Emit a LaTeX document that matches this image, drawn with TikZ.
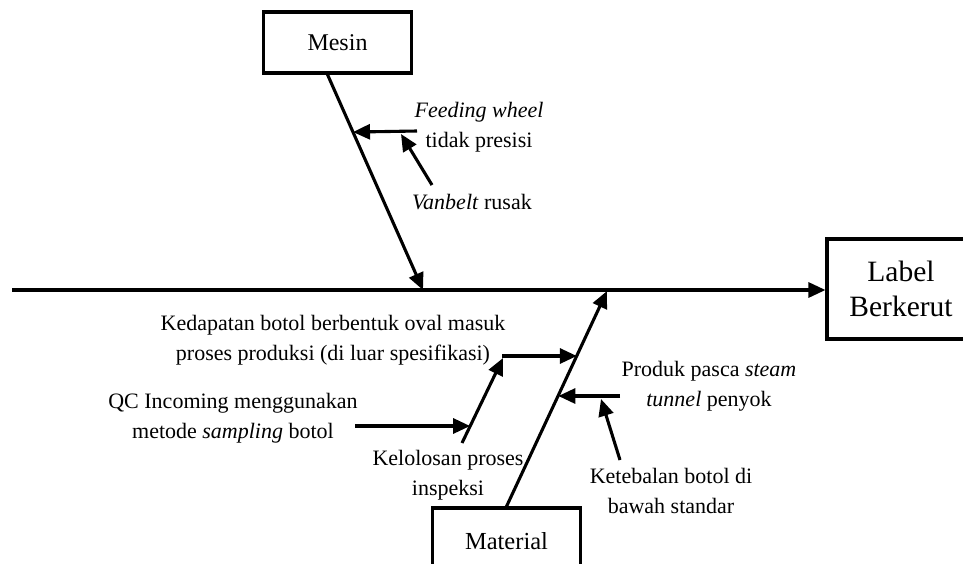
\documentclass[tikz,border=0pt]{standalone}
\usepackage{fontspec}
\setmainfont{Liberation Serif}
\usetikzlibrary{arrows.meta,calc}
\begin{document}
\begin{tikzpicture}[x=1pt,y=-1pt,
  bone/.style={line width=3.1pt, -{Triangle[length=17pt,width=15pt]}},
  cbox/.style={draw, line width=3.1pt, minimum width=148pt, inner sep=0pt},
  cause/.style={font=\fontsize{22}{29.5}\selectfont, align=center, inner sep=0pt, anchor=base},
]
\useasboundingbox (0,0) rectangle (963,563);

% category and effect boxes
\node[cbox, minimum height=61pt, font=\fontsize{24}{28}\selectfont] (mesin) at (337.5,42.5) {Mesin};
\node[cbox, minimum height=100pt, font=\fontsize{29.5}{35}\selectfont, align=center] (effect) at (901,289) {Label\\Berkerut};
\node[cbox, minimum height=66pt, font=\fontsize{24.5}{28}\selectfont] (material) at (506.5,541) {Material};

% cause labels (placed by the baseline of their last line)
\node[cause] (feed) at (479,147) {\textit{Feeding wheel}\\tidak presisi};
\node[cause] (vanbelt) at (472,209) {\textit{Vanbelt} rusak};
\node[cause] (oval) at (333,360) {Kedapatan botol berbentuk oval masuk\\proses produksi (di luar spesifikasi)};
\node[cause] (qc) at (233,438) {QC Incoming menggunakan\\metode \textit{sampling} botol};
\node[cause] (lolos) at (448,495) {Kelolosan proses\\inspeksi};
\node[cause] (steam) at (709,406) {Produk pasca \textit{steam}\\\textit{tunnel} penyok};
\node[cause] (tebal) at (671,513) {Ketebalan botol di\\bawah standar};

% spine
\coordinate (tail) at (12,290);
\draw[bone] (tail) -- (tail -| effect.west);

% Mesin bone
\coordinate (m0) at ($(mesin.south)+(-10,0)$);
\coordinate (mtip) at (423,290);
\draw[bone] (m0) -- (mtip);
\coordinate (f0) at (417,131);
\coordinate (f1) at ($(m0)!0.267!(mtip)$);
\draw[bone] (f0) -- (f1);
\coordinate (v0) at (432,185);
\coordinate (v1) at (401,134);
\draw[bone] (v0) -- (v1);

% Material bone
\coordinate (b0) at (material.north);
\coordinate (btip) at (607,291);
\draw[bone] (b0) -- (btip);
\coordinate (o0) at (502,356);
\coordinate (o1) at ($(b0)!0.70!(btip)$);
\draw[bone] (o0) -- (o1 |- o0);
\coordinate (k0) at (462,443);
\coordinate (k1) at (503,358);
\draw[bone] (k0) -- (k1);
\coordinate (q0) at (355,426);
\coordinate (q1) at ($(k0)!0.198!(k1)$);
\draw[bone] (q0) -- (q1 |- q0);
\coordinate (s0) at (620,396);
\coordinate (s1) at ($(b0)!0.516!(btip)$);
\draw[bone] (s0) -- (s1 |- s0);
\coordinate (t0) at (620,460);
\coordinate (t1) at (601,399);
\draw[bone] (t0) -- (t1);
\end{tikzpicture}
\end{document}
